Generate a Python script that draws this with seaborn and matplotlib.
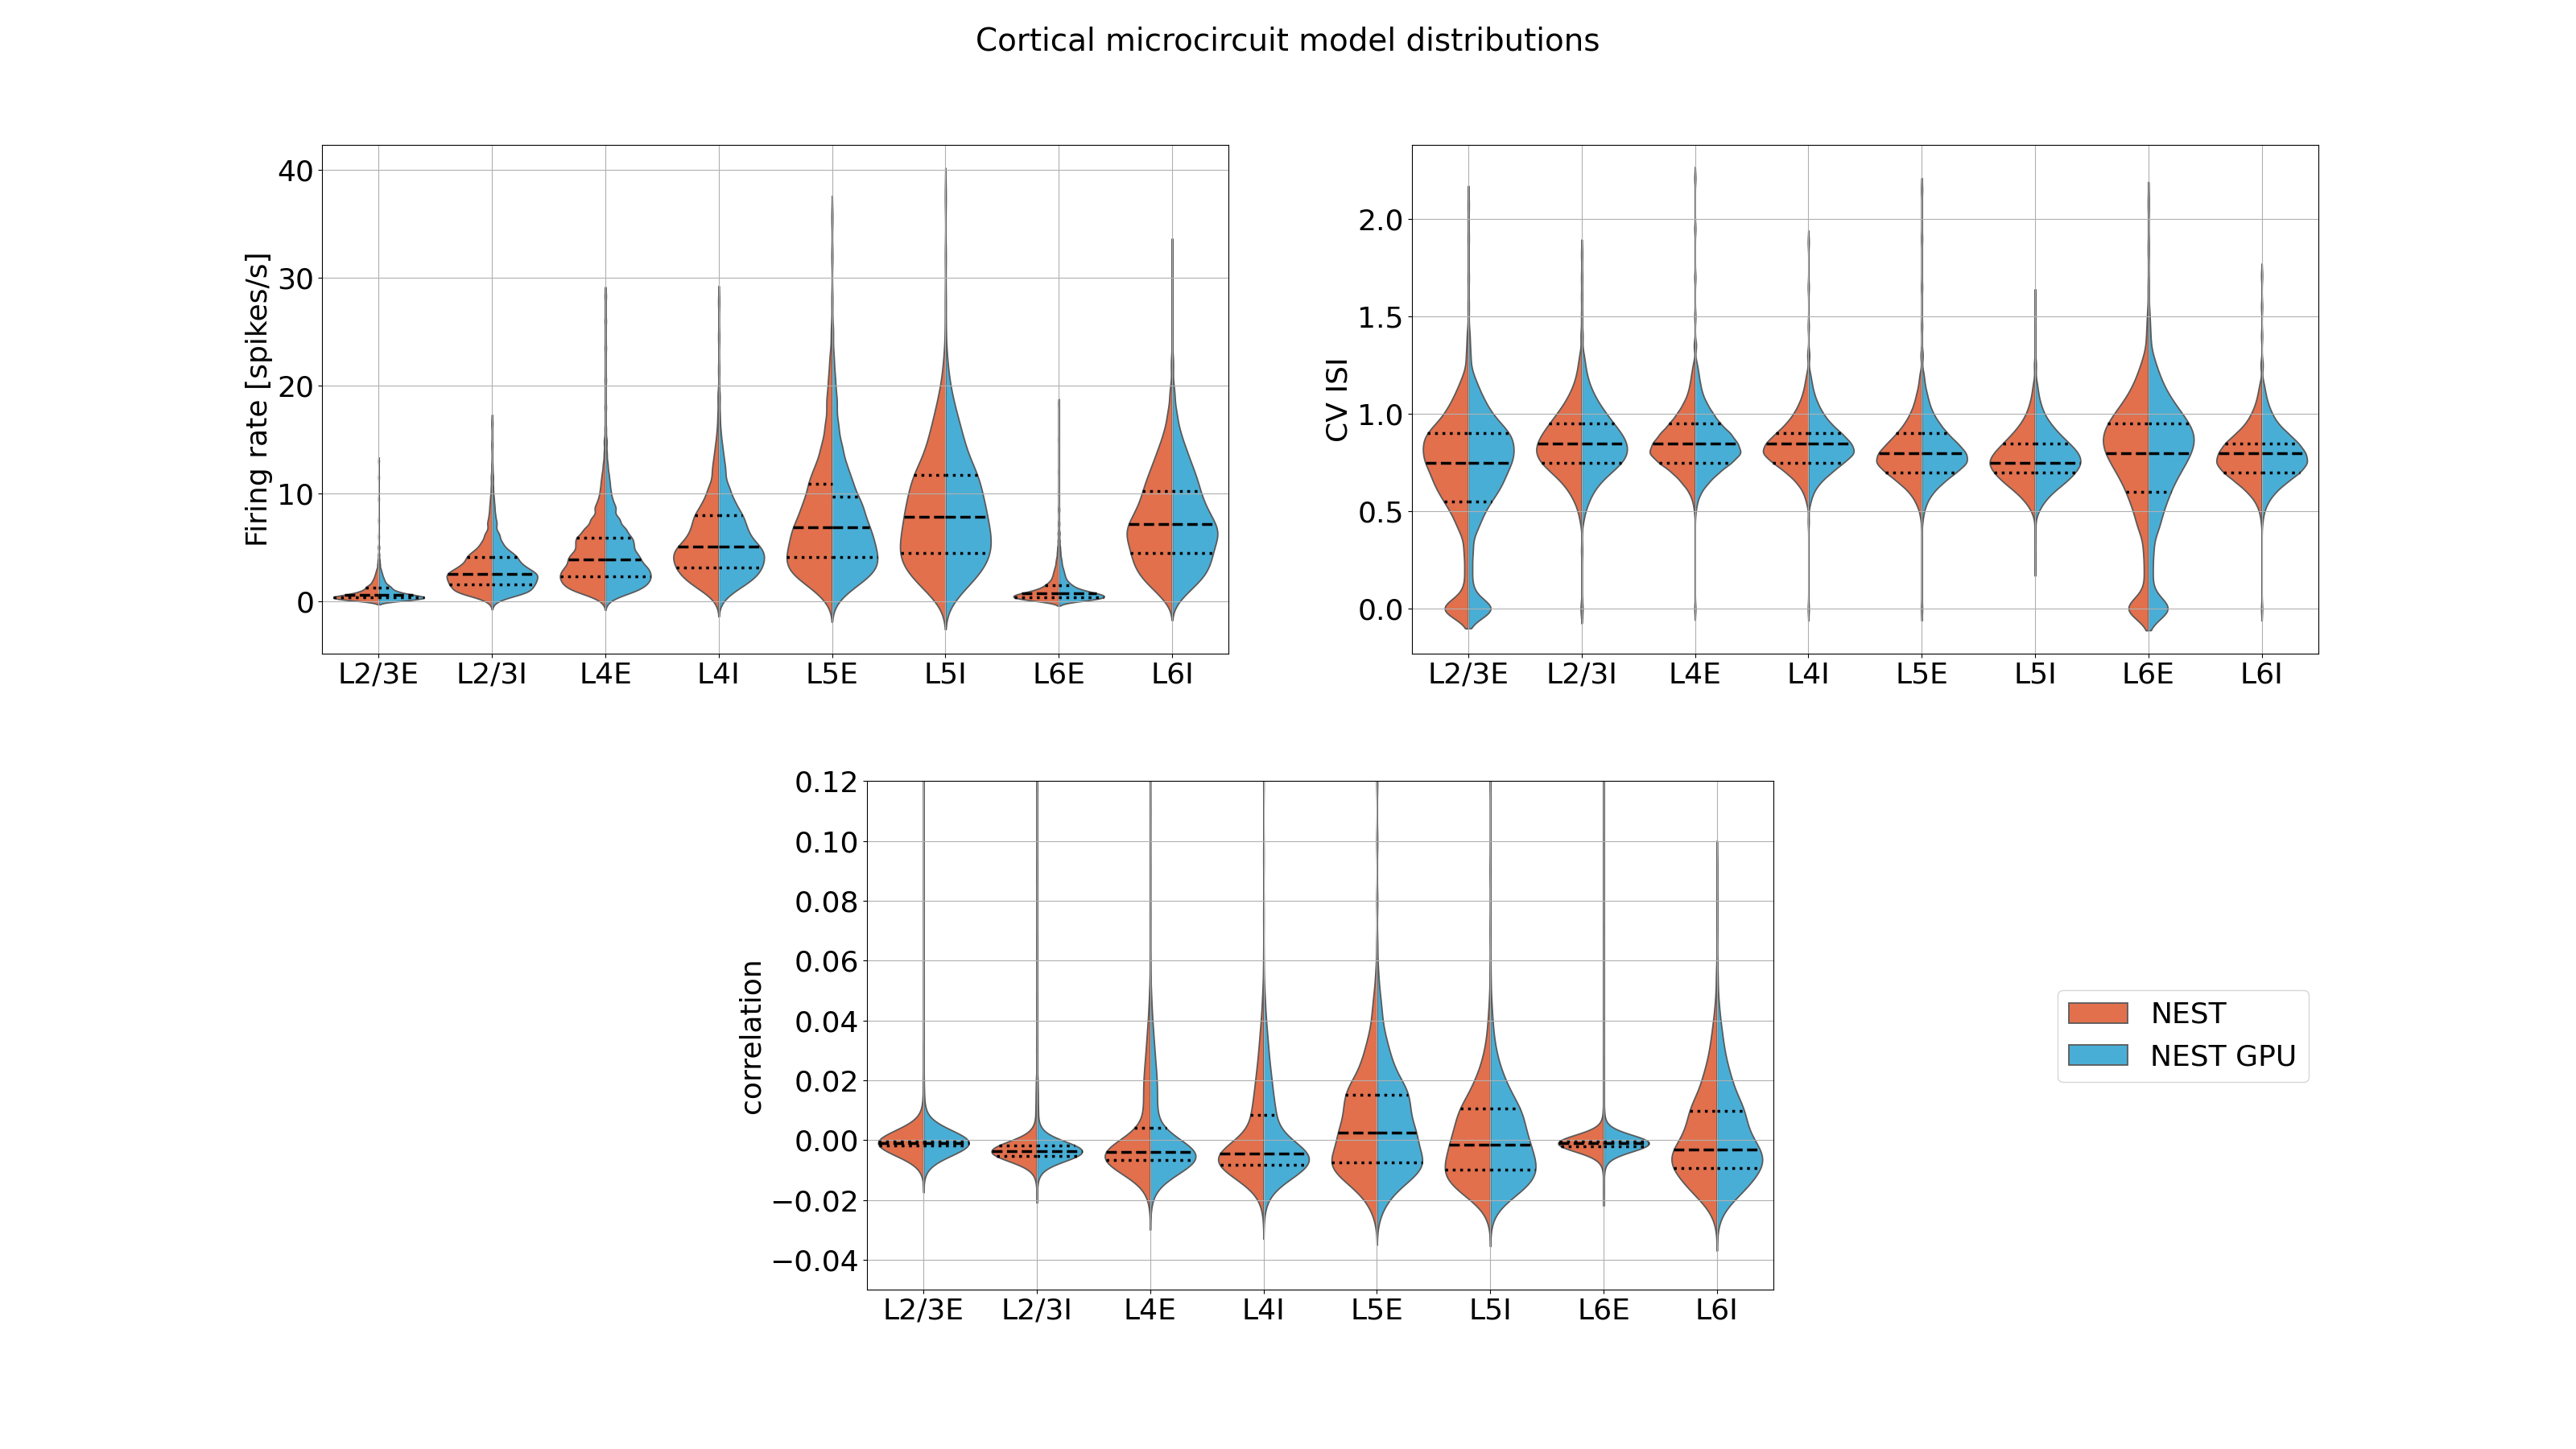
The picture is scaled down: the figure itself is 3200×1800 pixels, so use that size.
import numpy as np
import pandas as pd
import matplotlib
matplotlib.use("Agg")
import matplotlib.pyplot as plt
from matplotlib.ticker import MultipleLocator
import seaborn as sns
from matplotlib.patches import Patch

populations = ["L2/3E", "L2/3I", "L4E", "L4I", "L5E", "L5I", "L6E", "L6I"]
simulators = ["NEST", "NEST GPU"]
sim_colors = ["#E2704D", "#49AED6"]

# ---------------- firing rate [spikes/s]: histogram bins and counts
rate_bins = [
    [0.05, 0.15, 0.25, 0.35, 0.45, 0.6, 0.8, 1.0, 1.25, 1.5, 1.8, 2.1, 2.4, 2.7, 3.0, 3.4, 3.8, 4.3, 5.0, 6.0, 7.5, 9.5, 11.5, 13.0],
    [0.05, 0.5, 0.8, 1.1, 1.55, 2.0, 2.5, 3.0, 3.5, 4.1, 4.7, 5.4, 6.2, 7.2, 8.0, 8.8, 9.6, 10.5, 11.5, 12.5, 14.5, 16.5],
    [0.05, 0.3, 0.8, 1.3, 1.8, 2.3, 2.8, 3.3, 3.9, 4.5, 5.2, 5.9, 6.7, 7.6, 8.6, 9.4, 10.2, 11.0, 11.8, 12.7, 13.7, 14.8, 16.0, 18.0, 20.5, 23.5, 26.0, 28.3],
    [0.05, 0.4, 1.0, 1.7, 2.4, 3.1, 3.8, 4.5, 5.1, 5.9, 6.9, 8.0, 9.2, 10.5, 12.0, 13.2, 14.4, 15.7, 17.2, 19.0, 21.5, 24.5, 27.8],
    [0.1, 0.5, 1.5, 2.5, 3.3, 4.1, 5.0, 6.0, 6.9, 8.0, 9.3, 10.9, 12.5, 14.3, 16.3, 18.5, 20.5, 22.5, 25.0, 28.0, 32.0, 35.6],
    [0.1, 0.5, 1.5, 2.5, 3.5, 4.5, 5.5, 6.6, 7.8, 9.0, 10.3, 11.7, 13.2, 14.8, 16.5, 18.3, 20.2, 22.3, 25.0, 28.0, 32.0, 37.5],
    [0.05, 0.15, 0.25, 0.38, 0.5, 0.62, 0.75, 0.9, 1.05, 1.25, 1.5, 1.8, 2.15, 2.5, 2.85, 3.2, 3.6, 4.0, 4.5, 5.0, 5.6, 6.3, 7.2, 8.5, 10.0, 12.0, 15.0, 18.3],
    [0.1, 0.5, 1.5, 2.5, 3.5, 4.5, 5.5, 6.4, 7.2, 8.1, 9.1, 10.2, 11.4, 12.7, 14.1, 15.6, 17.3, 19.3, 22.0, 25.0, 28.0, 31.8],
]
rate_nest_counts = [
    [25, 30, 38, 47, 40, 45, 35, 26, 27, 20, 16, 12, 9, 7, 5, 4, 3, 2, 2, 1, 1, 1, 1, 1],
    [4, 14, 25, 28, 40, 40, 50, 35, 30, 32, 22, 16, 12, 8, 5, 4, 3, 2, 2, 1, 1, 1],
    [2, 4, 20, 28, 30, 32, 30, 28, 32, 28, 28, 30, 24, 18, 13, 8, 6, 5, 4, 3, 2, 2, 1, 1, 1, 1, 1, 1],
    [2, 3, 13, 24, 30, 34, 36, 35, 30, 32, 32, 32, 22, 16, 10, 7, 5, 3, 2, 2, 1, 1, 1],
    [2, 6, 20, 30, 28, 30, 33, 30, 30, 30, 32, 30, 22, 16, 11, 9, 6, 4, 2, 1, 1, 1],
    [2, 8, 18, 26, 31, 32, 32, 34, 34, 33, 33, 33, 24, 20, 16, 11, 6, 3, 1, 1, 1, 1],
    [20, 26, 32, 40, 36, 32, 30, 26, 22, 22, 22, 18, 14, 12, 10, 8, 7, 6, 5, 4, 3, 3, 2, 2, 1, 1, 1, 1],
    [2, 8, 20, 28, 32, 34, 35, 33, 30, 30, 28, 28, 26, 22, 17, 11, 7, 4, 2, 1, 1, 1],
]
rate_gpu_counts = [
    [26, 31, 38, 46, 41, 46, 35, 26, 26, 20, 15, 12, 9, 7, 5, 4, 3, 2, 2, 1, 1, 1, 1, 1],
    [4, 15, 25, 29, 40, 41, 50, 35, 31, 32, 21, 15, 12, 8, 5, 4, 3, 2, 2, 1, 1, 1],
    [2, 4, 20, 28, 31, 33, 31, 31, 30, 28, 28, 28, 24, 18, 13, 8, 6, 5, 4, 3, 2, 2, 1, 1, 1, 1, 1, 1],
    [2, 3, 12, 24, 31, 34, 36, 34, 31, 32, 33, 31, 22, 16, 10, 7, 5, 3, 2, 2, 1, 1, 1],
    [2, 6, 21, 31, 29, 31, 34, 31, 29, 31, 34, 27, 20, 15, 10, 8, 5, 3, 2, 1, 1, 1],
    [2, 7, 16, 24, 29, 31, 33, 35, 34, 33, 33, 33, 25, 21, 17, 11, 6, 3, 1, 1, 1, 1],
    [21, 26, 32, 39, 36, 32, 31, 26, 22, 22, 21, 18, 14, 12, 10, 8, 7, 6, 5, 4, 3, 3, 2, 2, 1, 1, 1, 1],
    [2, 8, 20, 29, 32, 34, 35, 34, 30, 30, 28, 27, 26, 22, 17, 11, 7, 4, 2, 1, 1, 1],
]
rate_kde_bw = [0.17, 0.4, 0.43, 0.73, 1.0, 1.35, 0.23, 0.93]

# ---------------- CV ISI
cv_bins = [
    [0.0, 0.1, 0.2, 0.3, 0.4, 0.45, 0.5, 0.55, 0.6, 0.65, 0.7, 0.75, 0.8, 0.85, 0.9, 0.95, 1.0, 1.05, 1.1, 1.15, 1.2, 1.3, 1.4, 1.55, 1.7, 1.9, 2.07],
    [0.0, 0.3, 0.45, 0.5, 0.55, 0.6, 0.65, 0.7, 0.75, 0.8, 0.85, 0.9, 0.95, 1.0, 1.05, 1.1, 1.15, 1.2, 1.25, 1.3, 1.4, 1.5, 1.6, 1.7, 1.82],
    [0.0, 0.5, 0.55, 0.6, 0.65, 0.7, 0.75, 0.8, 0.85, 0.9, 0.95, 1.0, 1.05, 1.1, 1.15, 1.2, 1.25, 1.35, 1.5, 1.7, 1.95, 2.21],
    [0.0, 0.45, 0.55, 0.6, 0.65, 0.7, 0.75, 0.8, 0.85, 0.9, 0.95, 1.0, 1.05, 1.1, 1.15, 1.2, 1.3, 1.45, 1.65, 1.88],
    [0.0, 0.45, 0.5, 0.55, 0.6, 0.65, 0.7, 0.75, 0.8, 0.85, 0.9, 0.95, 1.0, 1.05, 1.1, 1.15, 1.2, 1.3, 1.45, 1.65, 1.9, 2.15],
    [0.24, 0.4, 0.5, 0.55, 0.6, 0.65, 0.7, 0.75, 0.8, 0.85, 0.9, 0.95, 1.0, 1.05, 1.1, 1.15, 1.25, 1.4, 1.57],
    [0.0, 0.1, 0.2, 0.3, 0.4, 0.45, 0.5, 0.55, 0.6, 0.65, 0.7, 0.75, 0.8, 0.85, 0.9, 0.95, 1.0, 1.05, 1.1, 1.15, 1.2, 1.25, 1.3, 1.4, 1.5, 1.65, 1.85, 2.08],
    [0.0, 0.45, 0.5, 0.55, 0.6, 0.65, 0.7, 0.75, 0.8, 0.85, 0.9, 0.95, 1.0, 1.05, 1.1, 1.15, 1.25, 1.4, 1.55, 1.71],
]
cv_nest_counts = [
    [38, 6, 5, 6, 8, 8, 12, 16, 20, 24, 24, 30, 30, 30, 30, 20, 16, 12, 9, 6, 4, 3, 2, 1, 1, 1, 1],
    [2, 1, 2, 4, 8, 14, 22, 34, 46, 52, 50, 44, 36, 28, 20, 14, 9, 6, 4, 3, 2, 1, 1, 1, 1],
    [1, 1, 3, 8, 18, 30, 48, 62, 56, 46, 34, 24, 16, 10, 7, 5, 3, 2, 1, 1, 1, 1],
    [1, 1, 3, 7, 16, 30, 48, 64, 58, 44, 30, 20, 13, 8, 5, 3, 2, 1, 1, 1],
    [1, 1, 3, 8, 16, 30, 46, 60, 56, 44, 32, 22, 15, 10, 7, 4, 3, 2, 1, 1, 1, 1],
    [1, 1, 4, 12, 24, 40, 52, 60, 52, 40, 28, 18, 11, 7, 4, 3, 2, 1, 1],
    [36, 6, 6, 7, 9, 8, 10, 13, 15, 18, 22, 26, 30, 32, 32, 28, 24, 18, 14, 10, 8, 5, 4, 3, 2, 1, 1, 1],
    [1, 1, 3, 8, 18, 32, 48, 58, 54, 46, 32, 20, 13, 8, 5, 3, 2, 1, 1, 1],
]
cv_gpu_counts = [
    [36, 6, 5, 6, 7, 8, 11, 15, 20, 24, 25, 30, 31, 30, 30, 21, 16, 12, 9, 6, 4, 3, 2, 1, 1, 1, 1],
    [2, 1, 2, 4, 8, 13, 21, 33, 46, 52, 51, 45, 36, 28, 20, 14, 9, 6, 4, 3, 2, 1, 1, 1, 1],
    [1, 1, 3, 8, 18, 31, 48, 62, 56, 47, 33, 24, 16, 10, 7, 5, 3, 2, 1, 1, 1, 1],
    [1, 1, 3, 7, 16, 31, 47, 64, 58, 45, 30, 20, 13, 8, 5, 3, 2, 1, 1, 1],
    [1, 1, 3, 7, 15, 28, 44, 60, 58, 46, 33, 23, 15, 10, 7, 4, 3, 2, 1, 1, 1, 1],
    [1, 1, 4, 11, 22, 38, 50, 58, 54, 42, 29, 19, 11, 7, 4, 3, 2, 1, 1],
    [35, 6, 6, 7, 9, 8, 10, 13, 15, 18, 22, 26, 30, 32, 33, 28, 24, 18, 14, 10, 8, 5, 4, 3, 2, 1, 1, 1],
    [1, 1, 3, 8, 17, 31, 48, 58, 55, 46, 33, 20, 13, 8, 5, 3, 2, 1, 1, 1],
]
cv_kde_bw = [0.05, 0.037, 0.028, 0.03, 0.03, 0.035, 0.055, 0.03]

# ---------------- pairwise correlation
corr_bins = [
    [-0.0095, -0.008, -0.006, -0.004, -0.003, -0.0022, -0.0018, -0.0014, -0.001, -0.0007, -0.0004, 0.0, 0.001, 0.002, 0.004, 0.006, 0.009, 0.014, 0.02, 0.03, 0.05, 0.08, 0.12, 0.16],
    [-0.016, -0.013, -0.011, -0.0095, -0.0085, -0.0075, -0.0066, -0.006, -0.0054, -0.0048, -0.0042, -0.0036, -0.003, -0.0024, -0.0018, -0.0012, -0.0006, 0.0, 0.001, 0.0025, 0.005, 0.01, 0.015, 0.02, 0.03, 0.045, 0.065, 0.09, 0.12, 0.16],
    [-0.02, -0.018, -0.014, -0.011, -0.009, -0.0078, -0.0067, -0.0058, -0.0049, -0.0041, -0.0032, -0.0022, -0.0012, 0.0, 0.002, 0.004, 0.006, 0.008, 0.0096, 0.012, 0.015, 0.018, 0.021, 0.024, 0.028, 0.032, 0.036, 0.04, 0.045, 0.05, 0.06, 0.075, 0.09, 0.11, 0.13, 0.15],
    [-0.023, -0.02, -0.016, -0.0135, -0.0115, -0.0099, -0.0084, -0.0072, -0.0059, -0.0046, -0.0034, -0.0022, -0.001, 0.0005, 0.0025, 0.0045, 0.0065, 0.0085, 0.0102, 0.012, 0.015, 0.018, 0.021, 0.024, 0.028, 0.032, 0.036, 0.04, 0.045, 0.05, 0.06, 0.075, 0.095, 0.12, 0.15],
    [-0.027, -0.024, -0.021, -0.018, -0.015, -0.0125, -0.01, -0.0075, -0.005, -0.0025, 0.0, 0.0025, 0.005, 0.0075, 0.01, 0.0125, 0.015, 0.0175, 0.02, 0.0235, 0.027, 0.031, 0.035, 0.04, 0.045, 0.05, 0.056, 0.065, 0.08, 0.1, 0.12, 0.15],
    [-0.0265, -0.023, -0.02, -0.0175, -0.015, -0.0125, -0.0098, -0.007, -0.0045, -0.0016, 0.001, 0.0035, 0.006, 0.0085, 0.0105, 0.013, 0.016, 0.019, 0.022, 0.026, 0.03, 0.035, 0.04, 0.046, 0.055, 0.07, 0.09, 0.12, 0.15],
    [-0.017, -0.012, -0.008, -0.006, -0.0045, -0.0032, -0.0026, -0.002, -0.0015, -0.001, -0.0007, -0.0004, 0.0, 0.001, 0.002, 0.0035, 0.006, 0.01, 0.016, 0.025, 0.04, 0.07, 0.1, 0.14],
    [-0.028, -0.024, -0.021, -0.018, -0.0155, -0.0125, -0.0095, -0.0075, -0.0055, -0.0032, 0.0, 0.003, 0.006, 0.0098, 0.013, 0.017, 0.021, 0.025, 0.03, 0.035, 0.04, 0.046, 0.055, 0.07, 0.08, 0.091],
]
corr_nest_counts = [
    [1, 4, 8, 14, 18, 25, 40, 40, 60, 45, 50, 30, 20, 14, 10, 6, 4, 3, 2, 2, 1, 1, 1, 1],
    [1, 2, 4, 6, 8, 12, 16, 22, 34, 36, 38, 38, 34, 28, 24, 18, 14, 12, 10, 8, 7, 6, 5, 4, 3, 2, 2, 2, 2, 1],
    [1, 3, 8, 16, 26, 30, 34, 32, 30, 30, 24, 18, 12, 10, 8, 6, 5, 5, 5, 8, 9, 9, 9, 8, 8, 7, 5, 4, 3, 2, 1, 1, 1, 1, 1, 1],
    [1, 3, 8, 14, 22, 26, 30, 32, 32, 36, 22, 14, 10, 9, 9, 9, 9, 9, 9, 9, 10, 10, 9, 8, 8, 7, 5, 4, 3, 2, 1, 1, 1, 1, 1],
    [1, 3, 6, 10, 16, 20, 26, 30, 24, 20, 22, 24, 18, 18, 18, 18, 18, 17, 15, 14, 12, 10, 8, 6, 5, 3, 2, 1, 1, 1, 1, 1],
    [1, 4, 10, 18, 26, 30, 32, 28, 24, 30, 22, 20, 20, 18, 18, 16, 14, 12, 10, 8, 6, 4, 3, 2, 1, 1, 1, 1, 1],
    [1, 2, 4, 8, 14, 20, 25, 40, 45, 55, 50, 45, 30, 22, 14, 9, 5, 3, 2, 2, 1, 1, 1, 1],
    [1, 4, 9, 17, 24, 28, 32, 26, 24, 38, 26, 25, 24, 30, 20, 18, 15, 12, 10, 7, 5, 3, 2, 1, 1, 1],
]
corr_gpu_counts = [
    [1, 4, 8, 13, 18, 24, 40, 41, 60, 46, 50, 30, 20, 14, 10, 6, 4, 3, 2, 2, 1, 1, 1, 1],
    [1, 2, 4, 6, 8, 12, 16, 21, 33, 36, 38, 39, 35, 28, 24, 18, 14, 12, 10, 8, 7, 6, 5, 4, 3, 2, 2, 2, 2, 1],
    [1, 3, 8, 16, 25, 30, 34, 32, 31, 30, 24, 18, 12, 10, 8, 6, 5, 5, 5, 8, 9, 9, 9, 8, 8, 7, 5, 4, 3, 2, 1, 1, 1, 1, 1, 1],
    [1, 3, 7, 13, 21, 26, 30, 33, 33, 36, 22, 14, 10, 9, 9, 9, 9, 9, 9, 9, 10, 10, 9, 8, 8, 7, 5, 4, 3, 2, 1, 1, 1, 1, 1],
    [1, 3, 6, 10, 15, 20, 26, 30, 24, 20, 22, 25, 18, 18, 18, 18, 18, 17, 15, 14, 12, 10, 8, 6, 5, 3, 2, 1, 1, 1, 1, 1],
    [1, 4, 10, 18, 26, 30, 32, 29, 26, 28, 22, 20, 20, 18, 18, 16, 14, 12, 10, 8, 6, 4, 3, 2, 1, 1, 1, 1, 1],
    [1, 2, 4, 8, 13, 20, 25, 40, 46, 55, 50, 45, 30, 22, 14, 9, 5, 3, 2, 2, 1, 1, 1, 1],
    [1, 4, 9, 17, 25, 29, 32, 26, 24, 38, 26, 25, 24, 30, 20, 18, 15, 12, 10, 7, 5, 3, 2, 1, 1, 1],
]
corr_kde_bw = [0.004, 0.0025, 0.005, 0.005, 0.004, 0.0045, 0.0025, 0.0045]

panel_titles = ["Firing rate [spikes/s]", "CV ISI", "correlation"]
panel_ylims = [(-4.85, 42.35), (-0.229, 2.38), (-0.05, 0.12)]


def make_frame(bins, nest_counts, gpu_counts):
    parts = []
    for pop, b, cn, cg in zip(populations, bins, nest_counts, gpu_counts):
        for sim, c in zip(simulators, (cn, cg)):
            vals = np.repeat(np.asarray(b, dtype=float), np.asarray(c, dtype=int))
            parts.append(pd.DataFrame({"population": pop, "simulator": sim, "value": vals}))
    return pd.concat(parts, ignore_index=True)


def draw_panel(ax, df, bws, ylabel, ylim):
    for pop, bw in zip(populations, bws):
        sub = df[df["population"] == pop]
        sd = sub.groupby("simulator")["value"].std().mean()
        sns.violinplot(data=sub, x="population", y="value", hue="simulator",
                       order=populations, hue_order=simulators, palette=sim_colors,
                       split=True, inner="quart", density_norm="width",
                       bw_method=bw / sd, cut=2, gridsize=500, saturation=1,
                       linewidth=1.3, linecolor="#5a5a5a", legend=False,
                       inner_kws=dict(color="black"), ax=ax)
    for i, line in enumerate(ax.lines):
        line.set_color("black")
        line.set_linewidth(2.5)
        line.set_linestyle("--" if i % 3 == 1 else ":")
    ax.set_xlim(-0.5, 7.5)
    ax.set_ylim(*ylim)
    ax.set_xlabel("")
    ax.set_ylabel(ylabel)
    ax.grid(True)


plt.rcParams["font.size"] = 26
fig = plt.figure(figsize=(32, 18), dpi=100)
ax1 = fig.add_axes([0.125, 0.549, 0.352, 0.351])
ax2 = fig.add_axes([0.548, 0.549, 0.352, 0.351])
ax3 = fig.add_axes([0.3365, 0.11, 0.352, 0.351])

frames = [make_frame(rate_bins, rate_nest_counts, rate_gpu_counts),
          make_frame(cv_bins, cv_nest_counts, cv_gpu_counts),
          make_frame(corr_bins, corr_nest_counts, corr_gpu_counts)]
bws = [rate_kde_bw, cv_kde_bw, corr_kde_bw]

for ax, df, bw, lab, yl in zip([ax1, ax2, ax3], frames, bws, panel_titles, panel_ylims):
    draw_panel(ax, df, bw, lab, yl)

ax3.yaxis.set_major_locator(MultipleLocator(0.02))
ax3.set_ylim(-0.05, 0.12)

handles = [Patch(facecolor=c, edgecolor="#5a5a5a", linewidth=1.3, label=s)
           for c, s in zip(sim_colors, simulators)]
fig.legend(handles=handles, loc="center", bbox_to_anchor=(0.8475, 0.285))
fig.suptitle("Cortical microcircuit model distributions", fontsize=28, y=0.982)

fig.savefig("out.png", dpi=100)
